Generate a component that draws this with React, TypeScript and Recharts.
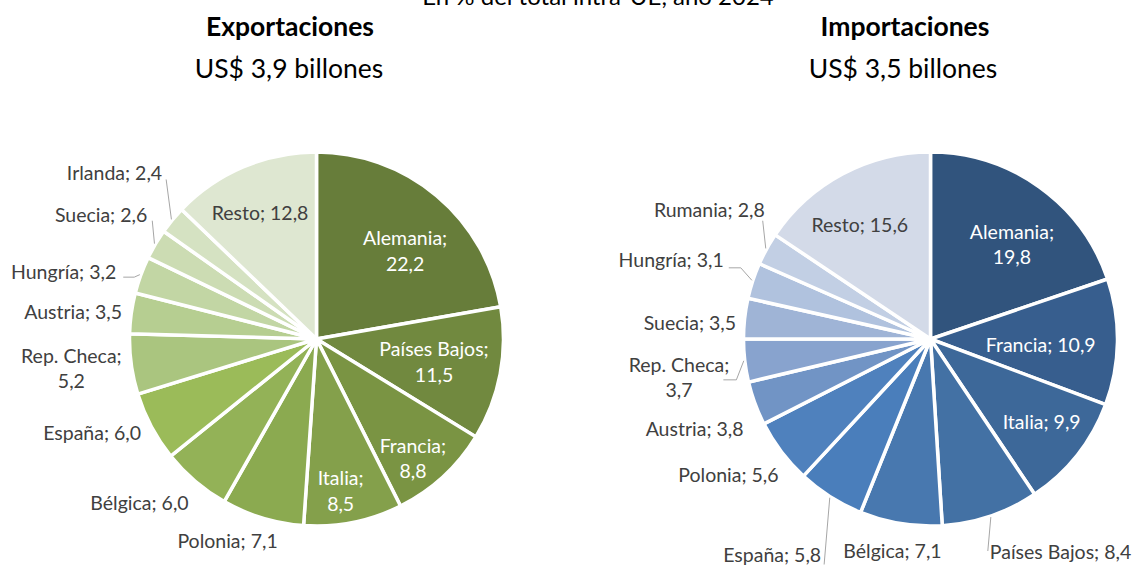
import React from 'react';
import { PieChart, Pie, Cell } from 'recharts';

// ---------- DATA ----------
const exportNames = ['Alemania', 'Países Bajos', 'Francia', 'Italia', 'Polonia', 'Bélgica', 'España', 'Rep. Checa', 'Austria', 'Hungría', 'Suecia', 'Irlanda', 'Resto'];
const exportValues = [22.2, 11.5, 8.8, 8.5, 7.1, 6.0, 6.0, 5.2, 3.5, 3.2, 2.6, 2.4, 12.8];
const exportColors = ['#677D3A', '#71893F', '#7A9443', '#84A04B', '#8BAA50', '#93B257', '#9BBB59', '#AAC57F', '#B6CE91', '#C2D6A4', '#CCDCB3', '#D5E2C2', '#DEE7D1'];

const importNames = ['Alemania', 'Francia', 'Italia', 'Países Bajos', 'Bélgica', 'España', 'Polonia', 'Austria', 'Rep. Checa', 'Suecia', 'Hungría', 'Rumania', 'Resto'];
const importValues = [19.8, 10.9, 9.9, 8.4, 7.1, 5.8, 5.6, 3.8, 3.7, 3.5, 3.1, 2.8, 15.6];
const importColors = ['#31547D', '#375E8E', '#3D6899', '#4371A4', '#4878AF', '#4A7EBB', '#4F81BD', '#7194C5', '#88A3CE', '#9FB4D6', '#B0C2DE', '#C2CFE4', '#D3DAE8'];

const topNote = 'En % del total intra-UE, año 2024';
const exportTitle = 'Exportaciones';
const exportSubtitle = 'US$ 3,9 billones';
const importTitle = 'Importaciones';
const importSubtitle = 'US$ 3,5 billones';

// ---------- LAYOUT ----------
const FONT = 'Lato, "Open Sans", sans-serif';
const LABEL_SIZE = 19.5;
const TITLE_SIZE = 26.5;
const LINE_H = 25.5;
const W = 1137;
const H = 567;
const R = 187;

type Leader = { side: 'right' | 'left'; dx: number; dy: number; elbow?: number };
type LabelLayout = { rf: number; da: number; split?: boolean; tone: 'in' | 'out' | 'dark'; leader?: Leader };

const exportLayout: Record<string, LabelLayout> = {
  'Alemania': { rf: 0.67, da: 5, split: true, tone: 'in' },
  'Países Bajos': { rf: 0.64, da: 0, split: true, tone: 'in' },
  'Francia': { rf: 0.82, da: 3.6, split: true, tone: 'in' },
  'Italia': { rf: 0.82, da: 2.3, split: true, tone: 'in' },
  'Polonia': { rf: 1.18, da: 7, tone: 'out' },
  'Bélgica': { rf: 1.29, da: 6.8, tone: 'out' },
  'España': { rf: 1.3, da: 5.3, tone: 'out' },
  'Rep. Checa': { rf: 1.32, da: 1, split: true, tone: 'out' },
  'Austria': { rf: 1.31, da: -1.4, tone: 'out' },
  'Hungría': { rf: 1.4, da: -5, tone: 'out', leader: { side: 'right', dx: 7, dy: 6, elbow: 11 } },
  'Suecia': { rf: 1.33, da: -0.5, tone: 'out', leader: { side: 'right', dx: 5, dy: 6 } },
  'Irlanda': { rf: 1.4, da: 0, tone: 'out', leader: { side: 'right', dx: 4, dy: 7 } },
  'Resto': { rf: 0.74, da: -1, tone: 'dark' },
};

const importLayout: Record<string, LabelLayout> = {
  'Alemania': { rf: 0.67, da: 4.9, split: true, tone: 'in' },
  'Francia': { rf: 0.59, da: 1.7, tone: 'in' },
  'Italia': { rf: 0.74, da: -1.8, tone: 'in' },
  'Países Bajos': { rf: 1.33, da: -12.8, tone: 'out', leader: { side: 'left', dx: 2, dy: 0 } },
  'Bélgica': { rf: 1.15, da: 1, tone: 'out' },
  'España': { rf: 1.43, da: 3.9, tone: 'out', leader: { side: 'right', dx: 3, dy: 10 } },
  'Polonia': { rf: 1.3, da: 3.3, tone: 'out' },
  'Austria': { rf: 1.35, da: -0.7, tone: 'out' },
  'Rep. Checa': { rf: 1.36, da: -1.9, split: true, tone: 'out', leader: { side: 'right', dx: -6, dy: 3, elbow: 13 } },
  'Suecia': { rf: 1.29, da: -2.3, tone: 'out' },
  'Hungría': { rf: 1.45, da: -1.2, tone: 'out', leader: { side: 'right', dx: 5, dy: 8, elbow: 12 } },
  'Rumania': { rf: 1.37, da: 1.5, tone: 'out', leader: { side: 'right', dx: -2, dy: 11 } },
  'Resto': { rf: 0.72, da: -3.6, tone: 'dark' },
};

const toneColor = { in: '#FFFFFF', out: '#404040', dark: '#404040' };

let ctx: CanvasRenderingContext2D | null = null;
function measure(s: string): number {
  if (!ctx) ctx = document.createElement('canvas').getContext('2d');
  if (!ctx) return s.length * LABEL_SIZE * 0.5;
  ctx.font = `${LABEL_SIZE}px Lato`;
  return ctx.measureText(s).width;
}

const fmt = (v: number) => v.toFixed(1).replace('.', ',');

function makeData(names: string[], values: number[]) {
  return names.map((name, i) => ({ name, value: values[i] }));
}

function makeLabel(layout: Record<string, LabelLayout>) {
  return (props: any) => {
    const { cx, cy, midAngle, outerRadius, name, value } = props;
    const cfg = layout[name];
    if (!cfg) return null;
    const RAD = Math.PI / 180;
    const theta = (90 - midAngle + cfg.da) * RAD; // clockwise from top
    const r = outerRadius * cfg.rf;
    const x = cx + r * Math.sin(theta);
    const y = cy - r * Math.cos(theta);
    const lines = cfg.split ? [name + ';', fmt(value)] : [`${name}; ${fmt(value)}`];
    const y0 = y - ((lines.length - 1) * LINE_H) / 2;
    const fill = toneColor[cfg.tone];
    let leader: React.ReactNode = null;
    if (cfg.leader) {
      const L = cfg.leader;
      const maxW = Math.max(...lines.map(measure));
      const sx = L.side === 'right' ? x + maxW / 2 + L.dx : x - maxW / 2 - L.dx;
      const sy = y + L.dy;
      const pts: [number, number][] = [[sx, sy]];
      if (L.elbow) pts.push([sx + (L.side === 'right' ? L.elbow : -L.elbow), sy]);
      const mt = (90 - midAngle) * RAD;
      pts.push([cx + (outerRadius + 1) * Math.sin(mt), cy - (outerRadius + 1) * Math.cos(mt)]);
      leader = (
        <polyline points={pts.map((p) => p.join(',')).join(' ')} fill="none" stroke="#A6A6A6" strokeWidth={1} />
      );
    }
    return (
      <g>
        {leader}
        {lines.map((ln, i) => (
          <text
            key={i}
            x={x}
            y={y0 + i * LINE_H}
            textAnchor="middle"
            dominantBaseline="central"
            fill={fill}
            fontFamily={FONT}
            fontSize={LABEL_SIZE}
          >
            {ln}
          </text>
        ))}
      </g>
    );
  };
}

const exportData = makeData(exportNames, exportValues);
const importData = makeData(importNames, importValues);

export default function App() {
  return (
    <div style={{ position: 'absolute', left: 0, top: 0, width: W, height: H, background: '#FFFFFF', overflow: 'hidden' }}>
      <PieChart width={W} height={H} margin={{ top: 0, right: 0, bottom: 0, left: 0 }}>
        <Pie
          data={exportData}
          dataKey="value"
          nameKey="name"
          cx={316.5}
          cy={339}
          outerRadius={R}
          startAngle={90}
          endAngle={-270}
          stroke="#FFFFFF"
          strokeWidth={3.5}
          label={makeLabel(exportLayout)}
          labelLine={false}
          isAnimationActive={false}
        >
          {exportData.map((d, i) => (
            <Cell key={d.name} fill={exportColors[i]} />
          ))}
        </Pie>
        <Pie
          data={importData}
          dataKey="value"
          nameKey="name"
          cx={930.5}
          cy={339}
          outerRadius={R}
          startAngle={90}
          endAngle={-270}
          stroke="#FFFFFF"
          strokeWidth={3.5}
          label={makeLabel(importLayout)}
          labelLine={false}
          isAnimationActive={false}
        >
          {importData.map((d, i) => (
            <Cell key={d.name} fill={importColors[i]} />
          ))}
        </Pie>
      </PieChart>
      <svg width={W} height={H} style={{ position: 'absolute', left: 0, top: 0, pointerEvents: 'none' }}>
        <text x={598} y={5} textAnchor="middle" fontFamily={FONT} fontSize={24} fill="#000000">{topNote}</text>
        <text x={290} y={36} textAnchor="middle" fontFamily={FONT} fontSize={TITLE_SIZE} fontWeight="bold" fill="#000000">{exportTitle}</text>
        <text x={289} y={78} textAnchor="middle" fontFamily={FONT} fontSize={TITLE_SIZE} fill="#000000">{exportSubtitle}</text>
        <text x={905} y={36} textAnchor="middle" fontFamily={FONT} fontSize={TITLE_SIZE} fontWeight="bold" fill="#000000">{importTitle}</text>
        <text x={903} y={78} textAnchor="middle" fontFamily={FONT} fontSize={TITLE_SIZE} fill="#000000">{importSubtitle}</text>
      </svg>
    </div>
  );
}
